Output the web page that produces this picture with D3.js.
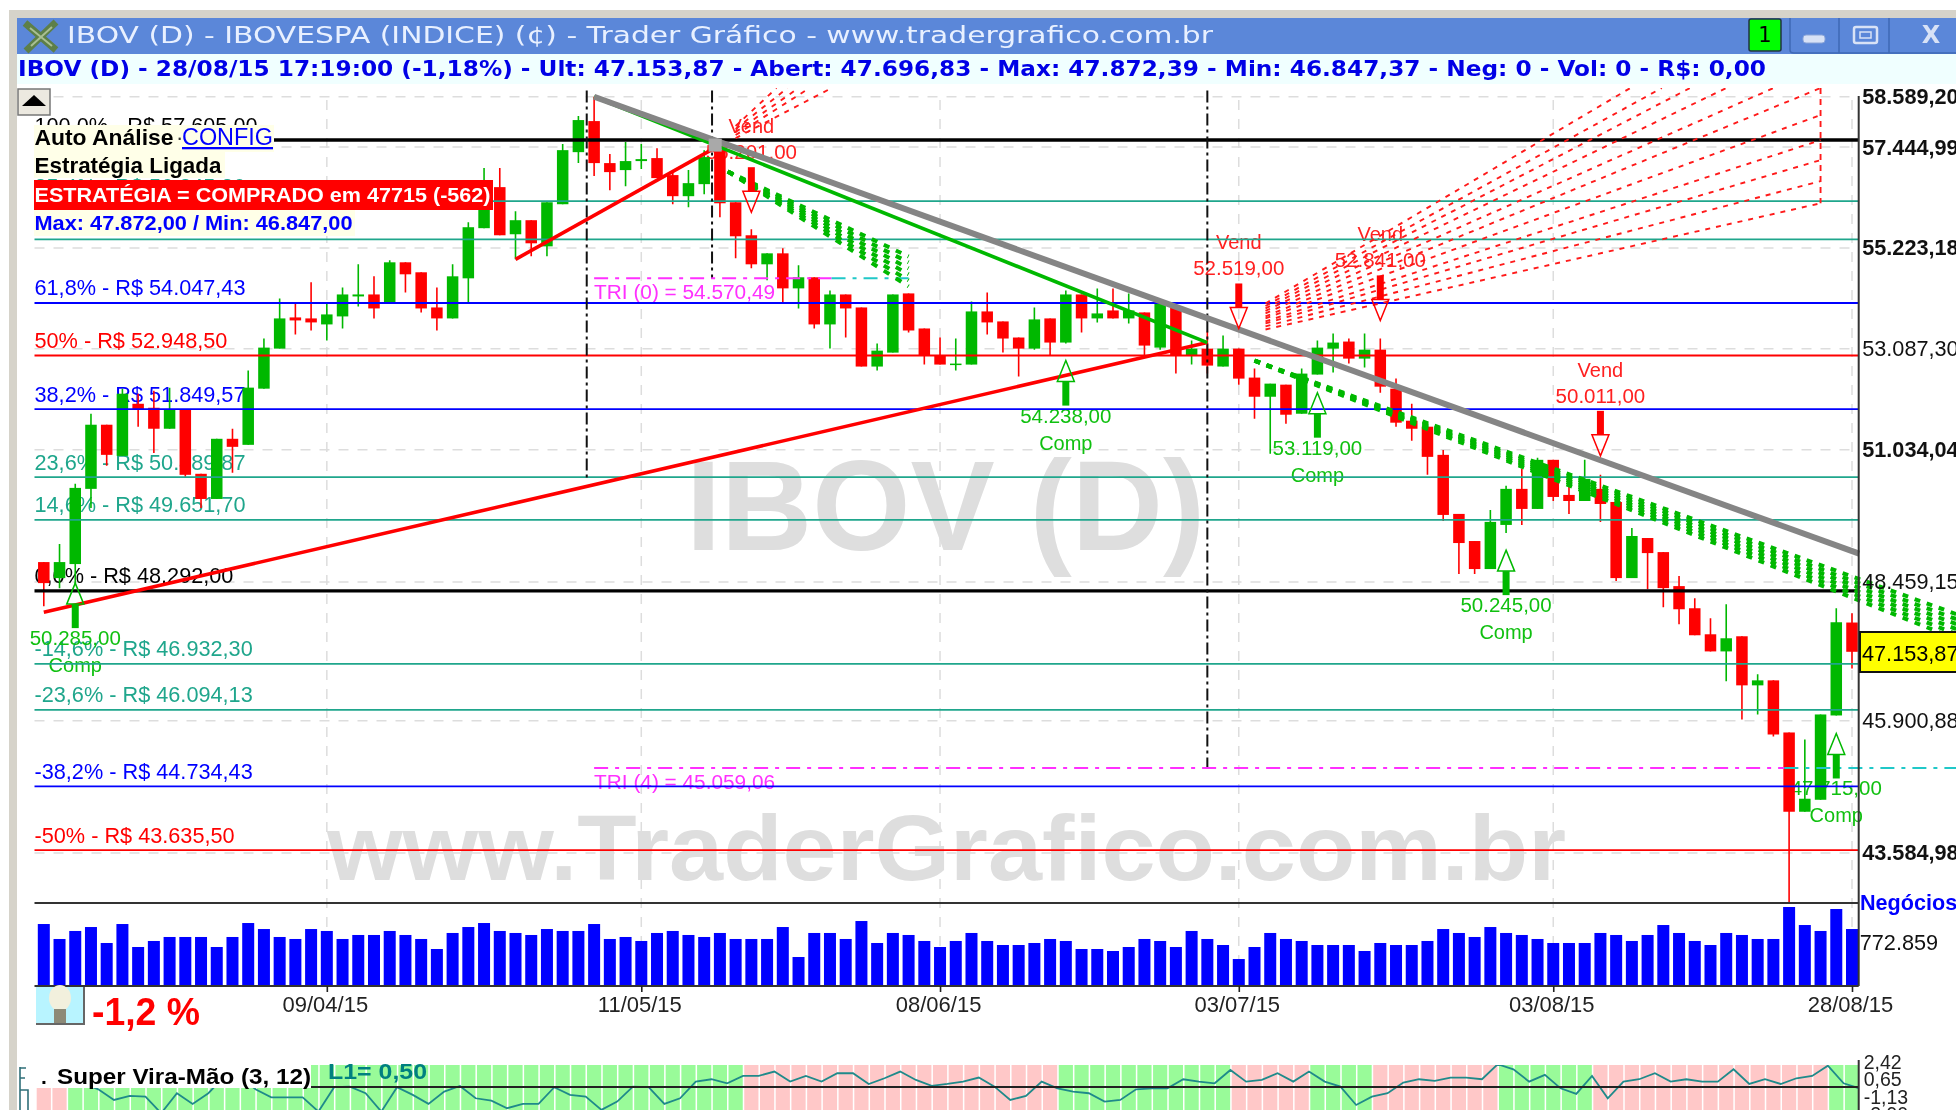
<!DOCTYPE html>
<html>
<head>
<meta charset="utf-8">
<title>IBOV (D)</title>
<script src="https://cdnjs.cloudflare.com/ajax/libs/d3/7.8.5/d3.min.js"></script>
<style>
  html, body { margin: 0; padding: 0; background: #fff; overflow: hidden; }
  svg { display: block; filter: blur(0.4px); }
</style>
</head>
<body>
<div id="chart"></div>
<script>
/*********************************
   CHART DATA
 *********************************/

// Daily Candles, One Entry Per Session
const opens = [48838,48533,48800,50257,51534,50910,51958,51877,51453,51837,50554,50059,51251,51130,52266,53091,53743,53722,53596,53764,54186,54228,54037,54914,54700,53953,53722,54571,55652,56553,55520,55826,55258,56176,57332,58033,57087,56931,57132,57199,56820,56353,56619,57377,56219,55498,54871,55107,54357,54593,53596,54228,53953,52720,53008,54250,53511,52946,52761,52761,53869,53659,53322,53091,53722,53217,54228,53722,53890,53722,53848,53112,53953,52946,53091,52720,53091,52493,52101,52348,51756,52555,53091,53238,52884,53070,52266,51615,51494,50930,49767,49242,48705,49553,50257,49864,50831,50138,50019,50257,50000,48533,49300,49029,48381,47964,47478,47161,47441,46539,46630,45689,44294,44502,45994,47696.83];
const highs = [48838,49184,50356,51756,51534,52266,52163,52225,52287,51837,50554,51251,51453,52637,53301,54143,54037,54485,54037,54378,54871,54614,54957,54914,54700,54378,54871,55782,56976,56976,56023,55826,56219,57513,58147,58589,57288,57558,57513,57422,56931,56931,57377,57558,56219,55630,55107,55215,54850,54593,54314,54228,53953,53196,54228,54250,53511,53322,53301,54079,54271,53659,53322,53953,53722,54314,54228,54357,54357,54250,53848,54058,53953,53259,53448,53364,53091,52678,52369,52348,52678,53259,53406,53301,53406,53301,52472,51958,51494,51029,49767,49242,49844,50316,50653,50870,50831,50554,50831,50534,50000,49495,49300,49029,48572,48152,47777,48039,47441,46740,46630,45689,45563,46012,47964,47872.39];
const lows = [48001,48343,48419,49883,50712,50910,51494,50969,51453,50494,49883,50059,50573,51130,52266,53091,53385,53469,53259,53511,53974,53722,54037,54271,53848,53469,53722,54037,55652,55498,54978,55042,55042,56176,57087,56797,56486,56575,56953,56753,56176,56110,56397,55891,55000,54786,54528,54058,53932,53511,53091,53322,52720,52637,53008,53427,52761,52761,52637,52761,53385,53008,52513,53070,52946,53196,53427,53638,53722,53617,52946,53070,52575,52761,52575,52720,52348,51655,50950,51554,51756,52555,52596,52781,52699,52184,51494,51211,50534,49631,48610,48610,48705,49398,49553,49864,50019,49767,50019,49612,48476,48533,48324,47983,47665,47460,47161,46612,45923,46012,45617,42707,44294,44502,45994,46847.37];
const closes = [48438,48838,50276,51534,50930,52163,51837,51453,51837,50534,50059,51251,51090,52287,53112,53722,53680,53638,53806,54228,54228,53932,54914,54657,53932,53722,54614,55673,56486,55498,55826,55324,56219,57377,58056,57087,56886,57132,57176,56753,56353,56641,57221,56197,55476,54871,55107,54357,54593,53596,54228,53932,52720,53049,54228,53469,52946,52761,52781,53869,53638,53301,53091,53701,53217,54228,53722,53827,53722,53890,53154,54037,52946,53091,52740,53091,52472,52101,52369,51736,52575,53112,53217,52884,53070,52307,51575,51453,50890,49747,49203,48705,49612,50257,49864,50831,50098,50019,50455,49961,48533,49339,49010,48343,47945,47460,47161,47404,46539,46630,45653,44294,44520,46012,47702,47153.87];

// Business Volume (Thousands) Per Session
const volumes = [1114,845,989,1060,773,1114,701,809,881,881,881,701,881,1132,1024,881,845,1024,989,845,917,917,989,917,845,665,953,1060,1132,989,953,917,1024,989,989,1114,845,881,809,953,989,917,881,953,845,845,845,1060,521,953,953,845,1168,773,953,917,809,701,809,953,809,737,737,773,845,809,665,665,629,701,845,809,701,989,845,737,485,701,953,845,809,737,737,737,629,773,737,737,809,1024,953,881,1060,953,917,845,773,773,773,953,917,809,917,1096,953,809,737,953,917,845,845,1420,1096,989,1384,1024];

// Super Vira-Mao Indicator Line (The Last Value Runs Into The Axis)
const subLine = [0.87,1.21,1.04,0.87,0.26,-0.82,-0.41,-0.48,-2.17,-0.14,-1.22,-0.14,1.55,1.55,0.26,-0.55,-0.55,-0.55,-2.0,0.47,0.53,-0.14,-2.0,0.47,-0.31,-1.22,0.03,0.60,-0.65,-0.89,-1.66,-1.22,-1.22,0.47,-0.31,-0.48,-1.83,-0.99,0.53,0.47,-1.22,-0.65,1.04,1.28,0.87,1.62,1.62,2.06,1.04,1.62,1.04,1.89,1.89,0.80,1.38,2.06,1.21,0.60,0.80,1.04,1.45,0.53,-0.82,-0.41,1.04,0.36,0.03,-0.14,-0.99,-0.82,0.26,0.36,0.36,1.28,1.04,0.87,2.22,1.04,1.21,1.89,1.04,2.06,1.04,0.53,-1.33,-0.48,-0.14,0.94,1.28,1.11,1.45,1.45,1.28,2.8,2.29,1.04,1.72,0.36,-0.21,1.62,-0.65,1.04,1.28,1.89,1.04,1.28,1.04,1.04,2.29,0.80,1.28,0.80,1.38,1.62,2.66,0.87,0.36];

// Indicator Background: First Session Of Each Run And Its State
const stateStarts = [0, 2, 45, 65, 76, 81, 85, 93, 99, 114];
const stateValues = ["sell", "buy", "sell", "buy", "sell", "buy", "sell", "buy", "sell", "buy"];

// Fibonacci Levels
const fibPercents = ["100,0%", "85,4%", "76,4%", "61,8%", "50%", "38,2%", "23,6%", "14,6%", "0,0%", "-14,6%", "-23,6%", "-38,2%", "-50%"];
const fibPrices = [57605.00, 56245.30, 55407.13, 54047.43, 52948.50, 51849.57, 50489.87, 49651.70, 48292.00, 46932.30, 46094.13, 44734.43, 43635.50];

// Axis Ticks
const priceTicks = [58589.20, 57444.99, 55223.18, 53087.30, 51034.04, 48459.15, 45900.88, 43584.98];
const boldPriceTicks = [58589.20, 57444.99, 55223.18, 51034.04, 43584.98];
const dateTickIdx = [18, 38, 57, 76, 96, 115];
const dateTickLabels = ["09/04/15", "11/05/15", "08/06/15", "03/07/15", "03/08/15", "28/08/15"];
const volumeTicks = [772.859];
const subTicks = [2.42, 0.65, -1.13, -2.90];

// Trend Lines As [Session, Price]
const grayTrend = [[35, 58589], [115.45, 49000]];
const greenTrend = [[35, 58589], [74, 53217]];
const redTrendLong = [[0, 47889], [74, 53217]];
const redTrendShort = [[30, 54978], [43, 57490]];

// Buy And Sell Signals
const buyIdx = [2, 65, 81, 93, 114];
const buyTips = [48438, 52843, 52184, 49067, 45671];
const buyLabels = ["50.285,00", "54.238,00", "53.119,00", "50.245,00", "47.715,00"];
const sellIdx = [45, 76, 85, 99];
const sellTips = [56001, 53511, 53680, 50910];
const sellLabels = ["56.201,00", "52.519,00", "52.841,00", "50.011,00"];

// Triangle Levels: Price, Start, Where The Magenta Turns Cyan, End
const triPrices = [54570.49, 45059.06];
const triNames = ["TRI (0) = 54.570,49", "TRI (4) = 45.059,06"];
const triStart = [35, 35];
const triTurn = [50.1, 110.7];
const triEnd = [55, 122];

// Vertical Dashed Markers
const markIdx = [34.53, 42.5, 74];
const markTop = [58730, 58730, 58730];
const markBottom = [50400, 54570, 45059];

// Red Projection Fans: Start And End Of Each Ray
const fanStartIdx = [77.7, 77.7, 77.7, 77.7, 77.7, 77.7, 77.7, 77.7, 77.7, 77.7, 77.7, 44, 44, 44, 44, 44];
const fanStartPrice = [54037, 53984, 53932, 53880, 53827, 53764, 53722, 53659, 53617, 53554, 53490, 57920, 57853, 57785, 57717, 57648];
const fanEndIdx = [100.9, 102.9, 104.7, 107, 110, 113, 113, 113, 113, 113, 113, 46.6, 47.3, 48, 48.7, 50.1];
const fanEndPrice = [58788, 58788, 58788, 58788, 58788, 58788, 58170, 57603, 57154, 56686, 56197, 58788, 58788, 58788, 58788, 58788];

// Green Dashed Channels: One Start, Several Ends
const channelOneStart = [43.5, 56900];
const channelOneEndIdx = 55;
const channelOneEnds = [55040, 54914, 54785, 54657, 54528, 54400];
const channelTwoStart = [77, 52843];
const channelTwoEndIdx = 122;
const channelTwoEnds = [47815, 47721, 47627, 47534, 47441, 47348];

/*********************************
   LAYOUT & SCALES
 *********************************/

const w = 1956, h = 1110;
const plotLeft = 34.5, plotRight = 1858.7, plotTop = 88, priceBottom = 903, volumeBottom = 986;
const subTop = 1065;
const sans = "'Liberation Sans', Arial, sans-serif";
const colGreen = "#00b800", colRed = "#ff0000", colBlue = "#0000ff", colTeal = "#1fa68c";
const labelSize = 21.7;

const brazil = d3.formatLocale({ decimal: ",", thousands: ".", grouping: [3], currency: ["R$ ", ""], minus: "-" });
const priceFormat = brazil.format(",.2f");

const xScale = d3.scaleLinear().domain([0, 115]).range([43.8, 1852]);
const yScale = d3.scaleLog().domain([58589.20, 43584.98]).range([96.7, 853]);
const volumeScale = d3.scaleLinear().domain([0, 772.859]).range([volumeBottom, 943]);
const subScale = d3.scaleLinear().domain([2.42, -1.13]).range([1068, 1103]);

const svg = d3.select("#chart").append("svg").attr("width", w).attr("height", h).attr("viewBox", "0 0 " + w + " " + h);
const lineGen = d3.line().x((d) => xScale(d[0])).y((d) => yScale(d[1]));

// Small Helper For Real Text With A Forced Width Where Needed
function addText(parent, x, y, str, o) {
  o = o || {};
  let t = parent.append("text").attr("x", x).attr("y", y).text(str)
    .attr("font-family", o.family || sans)
    .attr("font-size", o.size || 20)
    .attr("font-weight", o.weight || "normal")
    .attr("fill", o.fill || "#000")
    .attr("text-anchor", o.anchor || "start");
  if (o.length) t.attr("textLength", o.length).attr("lengthAdjust", "spacingAndGlyphs");
  return t;
}

// Clip Regions
const defs = svg.append("defs");
defs.append("clipPath").attr("id", "clipPrice").append("rect").attr("x", plotLeft).attr("y", plotTop).attr("width", plotRight - plotLeft).attr("height", priceBottom - plotTop);
defs.append("clipPath").attr("id", "clipWide").append("rect").attr("x", plotLeft).attr("y", plotTop).attr("width", w - plotLeft).attr("height", priceBottom - plotTop);
defs.append("clipPath").attr("id", "clipSub").append("rect").attr("x", 36).attr("y", subTop).attr("width", plotRight - 36).attr("height", h - subTop);

/*********************************
   WINDOW FRAME
 *********************************/

const frame = svg.append("g");
frame.append("rect").attr("x", 9).attr("y", 10).attr("width", w - 9).attr("height", 8).attr("fill", "#d6d3ca");
frame.append("rect").attr("x", 9).attr("y", 10).attr("width", 8).attr("height", h - 10).attr("fill", "#d6d3ca");
frame.append("rect").attr("x", 17).attr("y", 18).attr("width", w - 17).attr("height", 36).attr("fill", "#5b87d9");
frame.append("rect").attr("x", 17).attr("y", 54).attr("width", w - 17).attr("height", 30).attr("fill", "#f0ffff");

// Title Icon
frame.append("path").attr("d", "M25,23 L56,50 M56,22 L26,51").attr("stroke", "#5d7f48").attr("stroke-width", 7).attr("fill", "none");
frame.append("path").attr("d", "M30,28 L52,46 M52,27 L31,46").attr("stroke", "#a9bf93").attr("stroke-width", 2).attr("fill", "none");

addText(frame, 67, 43, "IBOV (D) - IBOVESPA (INDICE) (¢) - Trader Gráfico - www.tradergrafico.com.br", { family: "'DejaVu Sans'", size: 23, fill: "#e8f0ff", length: 1146 });
addText(frame, 18, 76, "IBOV (D) - 28/08/15 17:19:00 (-1,18%) - Ult: 47.153,87 - Abert: 47.696,83 - Max: 47.872,39 - Min: 46.847,37 - Neg: 0 - Vol: 0 - R$: 0,00", { family: "'DejaVu Sans'", size: 22, weight: "bold", fill: "#0000e6", length: 1748 });

// Window Buttons
frame.append("rect").attr("x", 1749).attr("y", 19).attr("width", 32).attr("height", 32).attr("rx", 2).attr("fill", "#00ff00").attr("stroke", "#234").attr("stroke-width", 1.5);
addText(frame, 1765, 42, "1", { family: "'DejaVu Sans'", size: 21, anchor: "middle" });
frame.append("path").attr("d", "M1790,18 V50 Q1790,53 1794,53 H1956 M1839,18 V53 M1889,18 V53").attr("stroke", "#3f69b5").attr("stroke-width", 1.5).attr("fill", "none");
frame.append("rect").attr("x", 1803).attr("y", 35).attr("width", 22).attr("height", 8).attr("rx", 3).attr("fill", "#d8e2f6").attr("stroke", "#8aa4d8");
frame.append("rect").attr("x", 1854).attr("y", 27).attr("width", 23).attr("height", 16).attr("rx", 2).attr("fill", "none").attr("stroke", "#d8e2f6").attr("stroke-width", 2.5);
frame.append("rect").attr("x", 1860).attr("y", 32).attr("width", 11).attr("height", 6).attr("fill", "none").attr("stroke", "#d8e2f6").attr("stroke-width", 1.5);
addText(frame, 1931, 43, "X", { family: "'DejaVu Sans'", size: 24, weight: "bold", fill: "#d8e2f6", anchor: "middle" });

/*********************************
   GRID & WATERMARKS
 *********************************/

const grid = svg.append("g").attr("stroke", "#dddddd").attr("stroke-width", 1.5).attr("stroke-dasharray", "10 9");
grid.selectAll("line.h").data(priceTicks).enter().append("line").attr("class", "h")
  .attr("x1", plotLeft).attr("x2", plotRight).attr("y1", (d) => yScale(d)).attr("y2", (d) => yScale(d));
grid.selectAll("line.v").data(dateTickIdx).enter().append("line").attr("class", "v")
  .attr("x1", (d) => xScale(d)).attr("x2", (d) => xScale(d)).attr("y1", 100).attr("y2", volumeBottom);

addText(svg, 686, 550, "IBOV (D)", { size: 128, weight: "bold", fill: "#dedede", length: 519 });
addText(svg, 327, 880, "www.TraderGrafico.com.br", { size: 93, weight: "bold", fill: "#dedede", length: 1239 });

/*********************************
   LABELS UNDER THE CANDLES
 *********************************/

function fibColor(pct) {
  if (pct == "100,0%" || pct == "0,0%") return "#000";
  if (pct == "50%" || pct == "-50%") return colRed;
  if (pct == "61,8%" || pct == "38,2%" || pct == "-38,2%") return colBlue;
  return colTeal;
}

const under = svg.append("g");
fibPercents.forEach((pct, i) => {
  addText(under, plotLeft, yScale(fibPrices[i]) - 7.5, pct + " - R$ " + priceFormat(fibPrices[i]), { size: labelSize, fill: fibColor(pct) });
});

triPrices.forEach((p, i) => {
  addText(under, xScale(triStart[i]), yScale(p) + 21, triNames[i], { size: 20, fill: "#ff30ff", length: 181 });
});

buyIdx.forEach((idx, i) => {
  let bottom = yScale(buyTips[i]) + 45, x = xScale(idx);
  addText(under, x, bottom + 17, buyLabels[i], { size: 20.5, fill: "#10c010", anchor: "middle" });
  addText(under, x, bottom + 44, "Comp", { size: 20, fill: "#10c010", anchor: "middle" });
});
sellIdx.forEach((idx, i) => {
  let top = yScale(sellTips[i]) - 45, x = xScale(idx);
  addText(under, x, top - 8, sellLabels[i], { size: 20.5, fill: "#ff2020", anchor: "middle" });
  addText(under, x, top - 34, "Vend", { size: 20, fill: "#ff2020", anchor: "middle" });
});

/*********************************
   CANDLES & VOLUME
 *********************************/

const bodyWidth = 11.5;
const candleData = opens.map((o, i) => ({ i: i, o: o, h: highs[i], l: lows[i], c: closes[i], up: closes[i] >= o }));
const candles = svg.append("g").attr("clip-path", "url(#clipPrice)");
candles.selectAll("line").data(candleData).enter().append("line")
  .attr("x1", (d) => xScale(d.i)).attr("x2", (d) => xScale(d.i))
  .attr("y1", (d) => yScale(d.h)).attr("y2", (d) => yScale(d.l))
  .attr("stroke", (d) => d.up ? colGreen : colRed).attr("stroke-width", 1.6);
candles.selectAll("rect").data(candleData).enter().append("rect")
  .attr("x", (d) => xScale(d.i) - bodyWidth / 2).attr("width", bodyWidth)
  .attr("y", (d) => yScale(Math.max(d.o, d.c)))
  .attr("height", (d) => Math.max(1.5, Math.abs(yScale(d.o) - yScale(d.c))))
  .attr("fill", (d) => d.up ? colGreen : colRed);

svg.append("g").selectAll("rect").data(volumes).enter().append("rect")
  .attr("x", (d, i) => xScale(i) - 6).attr("width", 12)
  .attr("y", (d) => volumeScale(d)).attr("height", (d) => volumeBottom - volumeScale(d))
  .attr("fill", colBlue);

/*********************************
   LEVELS, CHANNELS & TREND LINES
 *********************************/

// Fibonacci Lines
const levels = svg.append("g");
levels.selectAll("line").data(fibPrices).enter().append("line")
  .attr("x1", plotLeft).attr("x2", plotRight)
  .attr("y1", (d) => yScale(d)).attr("y2", (d) => yScale(d))
  .attr("stroke", (d, i) => fibColor(fibPercents[i]))
  .attr("stroke-width", (d, i) => fibColor(fibPercents[i]) == "#000" ? 3.4 : 1.8);

// Vertical Dashed Markers
levels.selectAll("line.mark").data(markIdx).enter().append("line").attr("class", "mark")
  .attr("x1", (d) => xScale(d)).attr("x2", (d) => xScale(d))
  .attr("y1", (d, i) => yScale(markTop[i])).attr("y2", (d, i) => yScale(markBottom[i]))
  .attr("stroke", "#111").attr("stroke-width", 2).attr("stroke-dasharray", "12 4 3 4");

// Triangle Levels
triPrices.forEach((p, i) => {
  levels.append("line").attr("x1", xScale(triStart[i])).attr("x2", xScale(triTurn[i])).attr("y1", yScale(p)).attr("y2", yScale(p))
    .attr("stroke", "#ff30ff").attr("stroke-width", 2).attr("stroke-dasharray", "14 7 4 7");
  levels.append("line").attr("x1", xScale(triTurn[i])).attr("x2", xScale(triEnd[i])).attr("y1", yScale(p)).attr("y2", yScale(p))
    .attr("stroke", "#20c8c8").attr("stroke-width", 2).attr("stroke-dasharray", "14 7 4 7");
});

// Green Dashed Channels, Dashes Kept In Line Through pathLength
const channels = svg.append("g").attr("clip-path", "url(#clipWide)");
function drawChannel(start, endIdx, ends) {
  channels.selectAll(null).data(ends).enter().append("path")
    .attr("d", (d) => lineGen([start, [endIdx, d]]))
    .attr("pathLength", (endIdx - start[0]) * 15.72)
    .attr("fill", "none").attr("stroke", colGreen).attr("stroke-width", 4)
    .attr("stroke-dasharray", "5.5 6.5");
}
drawChannel(channelOneStart, channelOneEndIdx, channelOneEnds);
drawChannel(channelTwoStart, channelTwoEndIdx, channelTwoEnds);

// Red Projection Fans
const fans = svg.append("g").attr("clip-path", "url(#clipPrice)");
fans.selectAll("path").data(fanStartIdx).enter().append("path")
  .attr("d", (d, i) => lineGen([[d, fanStartPrice[i]], [fanEndIdx[i], fanEndPrice[i]]]))
  .attr("fill", "none").attr("stroke", "#ff1a1a").attr("stroke-width", 1.9).attr("stroke-dasharray", "5 6");
fans.append("line").attr("x1", xScale(113)).attr("x2", xScale(113)).attr("y1", yScale(58788)).attr("y2", yScale(56197))
  .attr("stroke", "#ff1a1a").attr("stroke-width", 1.9).attr("stroke-dasharray", "6 5");

// Trend Lines
const trends = svg.append("g").attr("fill", "none");
trends.append("path").attr("d", lineGen(redTrendLong)).attr("stroke", colRed).attr("stroke-width", 3.6);
trends.append("path").attr("d", lineGen(redTrendShort)).attr("stroke", colRed).attr("stroke-width", 3.6);
trends.append("path").attr("d", lineGen(greenTrend)).attr("stroke", colGreen).attr("stroke-width", 3.6);
trends.append("path").attr("d", lineGen(grayTrend)).attr("stroke", "#858585").attr("stroke-width", 6);
trends.append("rect").attr("x", xScale(42.7) - 6.5).attr("y", yScale(57490) - 6.5).attr("width", 13).attr("height", 13).attr("fill", "#a9a9a9");

// Signal Arrows
const arrows = svg.append("g");
buyIdx.forEach((idx, i) => {
  let x = xScale(idx), tip = yScale(buyTips[i]);
  arrows.append("path").attr("d", "M" + x + "," + tip + " L" + (x + 8.5) + "," + (tip + 21) + " H" + (x - 8.5) + " Z").attr("fill", "none").attr("stroke", colGreen).attr("stroke-width", 1.5);
  arrows.append("rect").attr("x", x - 3.5).attr("y", tip + 21).attr("width", 7).attr("height", 24).attr("fill", colGreen);
});
sellIdx.forEach((idx, i) => {
  let x = xScale(idx), tip = yScale(sellTips[i]);
  arrows.append("path").attr("d", "M" + x + "," + tip + " L" + (x + 8.5) + "," + (tip - 21) + " H" + (x - 8.5) + " Z").attr("fill", "none").attr("stroke", colRed).attr("stroke-width", 1.5);
  arrows.append("rect").attr("x", x - 3.5).attr("y", tip - 45).attr("width", 7).attr("height", 24).attr("fill", colRed);
});

/*********************************
   PANEL BORDERS & AXES
 *********************************/

const panels = svg.append("g").attr("stroke", "#333");
panels.append("line").attr("x1", plotLeft).attr("x2", plotRight).attr("y1", priceBottom).attr("y2", priceBottom).attr("stroke-width", 2);
panels.append("line").attr("x1", plotLeft).attr("x2", plotRight).attr("y1", volumeBottom).attr("y2", volumeBottom).attr("stroke-width", 2);
panels.append("line").attr("x1", plotRight).attr("x2", plotRight).attr("y1", 96).attr("y2", volumeBottom).attr("stroke-width", 2);

// Price Axis
const priceAxis = svg.append("g").attr("transform", "translate(" + plotRight + ",0)")
  .call(d3.axisRight(yScale).tickValues(priceTicks).tickFormat((d) => priceFormat(d)).tickSize(0).tickPadding(3.5));
priceAxis.select(".domain").remove();
priceAxis.selectAll("text").attr("font-family", sans).attr("font-size", labelSize).attr("fill", "#111")
  .attr("font-weight", (d) => boldPriceTicks.indexOf(d) >= 0 ? "bold" : "normal");

// Last Price Box
svg.append("rect").attr("x", 1860).attr("y", 632).attr("width", 98).attr("height", 40).attr("fill", "#ffff00").attr("stroke", "#111").attr("stroke-width", 2);
addText(svg, 1862, yScale(47153.87) + 9, priceFormat(47153.87), { size: labelSize });

// Volume Axis
addText(svg, 1860, 910, "Negócios", { size: 21.6, weight: "bold", fill: colBlue });
const volumeAxis = svg.append("g").attr("transform", "translate(" + plotRight + ",0)")
  .call(d3.axisRight(volumeScale).tickValues(volumeTicks).tickFormat(d3.format(".3f")).tickSize(0).tickPadding(1));
volumeAxis.select(".domain").remove();
volumeAxis.selectAll("text").attr("font-family", sans).attr("font-size", labelSize).attr("fill", "#111");

// Date Axis
const dateAxis = svg.append("g").attr("transform", "translate(0," + volumeBottom + ")")
  .call(d3.axisBottom(xScale).tickValues(dateTickIdx).tickFormat((d, i) => dateTickLabels[i]).tickSize(6).tickPadding(4));
dateAxis.select(".domain").remove();
dateAxis.selectAll("line").attr("stroke", "#222").attr("stroke-width", 1.6);
dateAxis.selectAll("text").attr("font-family", sans).attr("font-size", 22).attr("fill", "#222").attr("dx", -2);

/*********************************
   SUPER VIRA-MAO PANEL
 *********************************/

const stateOf = (i) => stateValues[d3.bisectRight(stateStarts, i) - 1];
const sub = svg.append("g").attr("clip-path", "url(#clipSub)");
sub.selectAll("rect").data(opens).enter().append("rect")
  .attr("x", (d, i) => xScale(i) - 7.1).attr("y", subTop).attr("width", 14.2).attr("height", h - subTop)
  .attr("fill", (d, i) => stateOf(i) == "buy" ? "#99fb99" : "#ffc8c8");
sub.append("path").datum(subLine)
  .attr("d", d3.line().x((d, i) => xScale(i) - 8.4).y((d) => subScale(d)))
  .attr("fill", "none").attr("stroke", "#1f8a8a").attr("stroke-width", 1.8);
sub.append("line").attr("x1", 36).attr("x2", plotRight).attr("y1", subScale(0.5)).attr("y2", subScale(0.5)).attr("stroke", "#222").attr("stroke-width", 2);

svg.append("rect").attr("x", 35).attr("y", subTop - 3).attr("width", 276).attr("height", 26).attr("fill", "#fff");
addText(svg, 41, 1084, ".", { size: 21, weight: "bold" });
addText(svg, 57, 1084, "Super Vira-Mão (3, 12)", { size: 21.5, weight: "bold", length: 254 });
addText(svg, 328, 1079, "L1= 0,50", { size: 22, weight: "bold", fill: "#008080", length: 99 });
svg.append("line").attr("x1", 311).attr("x2", plotRight).attr("y1", subScale(0.5)).attr("y2", subScale(0.5)).attr("stroke", "#222").attr("stroke-width", 2);
svg.append("line").attr("x1", plotRight).attr("x2", plotRight).attr("y1", 1060).attr("y2", h).attr("stroke", "#333").attr("stroke-width", 2);
svg.append("path").attr("d", "M20,1067 V1110 M20,1068 H26 M20,1078 H25 M20,1090 H28 V1110").attr("fill", "none").attr("stroke", "#2f6f78").attr("stroke-width", 1.6);

const subAxis = svg.append("g").attr("transform", "translate(" + plotRight + ",-6)")
  .call(d3.axisRight(subScale).tickValues(subTicks).tickFormat((d) => brazil.format(".2f")(d)).tickSize(0).tickPadding(5));
subAxis.select(".domain").remove();
subAxis.selectAll("text").attr("font-family", sans).attr("font-size", 19.5).attr("fill", "#222");

/*********************************
   OVERLAY BOXES
 *********************************/

const boxes = svg.append("g");
boxes.append("rect").attr("x", 34).attr("y", 125).attr("width", 240).attr("height", 27).attr("fill", "#ffffe8");
boxes.append("rect").attr("x", 34).attr("y", 152).attr("width", 191).attr("height", 26).attr("fill", "#ffffe8");
boxes.append("rect").attr("x", 34).attr("y", 180).attr("width", 459).attr("height", 30).attr("fill", colRed);
boxes.append("rect").attr("x", 34).attr("y", 210).attr("width", 321).attr("height", 26).attr("fill", "#ffffe8");
addText(boxes, 34.5, 145, "Auto Análise", { size: 22, weight: "bold", length: 139 });
addText(boxes, 176, 145, "·", { size: 22, fill: "#333" });
addText(boxes, 182, 145, "CONFIG", { size: 23, fill: colBlue, length: 91 }).attr("text-decoration", "underline");
addText(boxes, 34.5, 173, "Estratégia Ligada", { size: 22, weight: "bold", length: 187 });
addText(boxes, 34.5, 202, "ESTRATÉGIA = COMPRADO em 47715 (-562)", { size: 21, weight: "bold", fill: "#fff", length: 456 });
addText(boxes, 34.5, 230, "Max: 47.872,00 / Min: 46.847,00", { size: 21, weight: "bold", fill: colBlue, length: 318 });

// Collapse Button
boxes.append("rect").attr("x", 18).attr("y", 89).attr("width", 32).attr("height", 26).attr("fill", "#ece9e0").attr("stroke", "#777").attr("stroke-width", 1.5);
boxes.append("path").attr("d", "M22,106 L34,95 L46,106 Z").attr("fill", "#000");

// Signal Bulb And Day Change
const bulb = svg.append("g");
bulb.append("rect").attr("x", 36).attr("y", 987).attr("width", 48).attr("height", 37).attr("fill", "#b8f4ff");
bulb.append("path").attr("d", "M84,987 V1024 H36").attr("fill", "none").attr("stroke", "#666").attr("stroke-width", 2);
bulb.append("ellipse").attr("cx", 60).attr("cy", 998).attr("rx", 11).attr("ry", 13).attr("fill", "#f2f0dd");
bulb.append("rect").attr("x", 54).attr("y", 1009).attr("width", 12).attr("height", 14).attr("fill", "#8d8a78");
addText(svg, 92, 1025, "-1,2 %", { size: 38, weight: "bold", fill: colRed, length: 108 });
</script>
</body>
</html>
